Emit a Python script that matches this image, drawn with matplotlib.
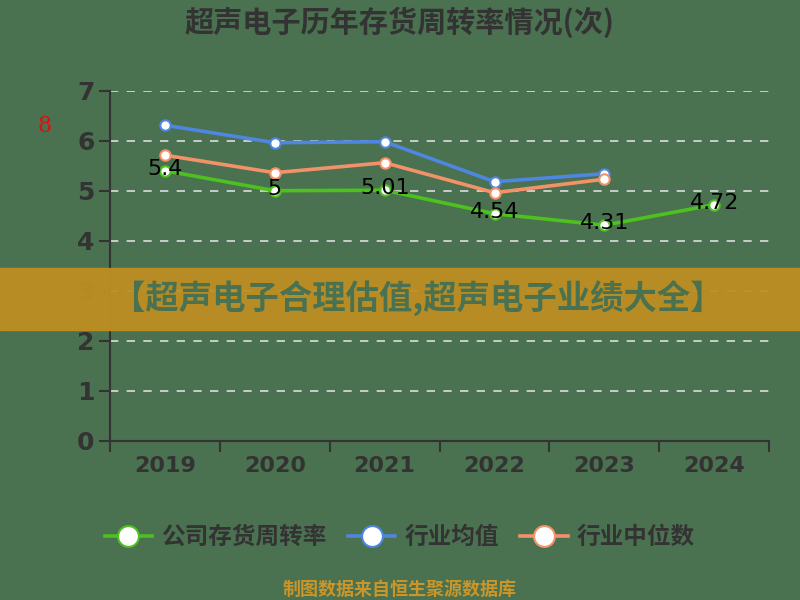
import matplotlib
matplotlib.use("Agg")
import matplotlib.pyplot as plt
import numpy as np

plt.rcParams['font.family'] = ['Noto Sans CJK SC', 'DejaVu Sans']

years = ["2019", "2020", "2021", "2022", "2023", "2024"]
company = [5.4, 5.0, 5.01, 4.54, 4.31, 4.72]
industry_mean = [6.31, 5.96, 5.98, 5.18, 5.34]
industry_median = [5.71, 5.36, 5.56, 4.96, 5.23]
company_labels = ["5.4", "5", "5.01", "4.54", "4.31", "4.72"]

title = "超声电子历年存货周转率情况(次)"
series_names = ["公司存货周转率", "行业均值", "行业中位数"]
banner = "【超声电子合理估值,超声电子业绩大全】"
source = "制图数据来自恒生聚源数据库"

bg = "#4A7150"
c_green = "#4DC11F"
c_blue = "#4F86E0"
c_orange = "#F39268"
c_text = "#333333"

fig = plt.figure(figsize=(8, 6), dpi=100, facecolor=bg)
ax = fig.add_axes([0.1375, 0.2655, 0.824, 0.5833], facecolor=bg)

x = np.arange(len(years))
xm = np.arange(len(industry_mean))

lg, = ax.plot(x, company, color=c_green, lw=2.6, marker='o', ms=7.5,
              mfc='white', mec=c_green, mew=1.5, zorder=3)
lb, = ax.plot(xm, industry_mean, color=c_blue, lw=2.6, marker='o', ms=7.5,
              mfc='white', mec=c_blue, mew=1.5, zorder=3)
lo, = ax.plot(xm, industry_median, color=c_orange, lw=2.6, marker='o', ms=7.5,
              mfc='white', mec=c_orange, mew=1.5, zorder=3)

for xi, v, t in zip(x, company, company_labels):
    ax.text(xi, v + 0.04, t, ha='center', va='center', fontsize=16,
            color='black', family=['DejaVu Sans'], zorder=4)

ax.set_xlim(-0.5, len(years) - 0.5)
ax.set_ylim(0, 7)
ax.set_yticks(range(0, 8))
ax.set_xticks(x)
ax.set_xticklabels(years)
ax.set_xticks(np.arange(-0.5, len(years), 1.0), minor=True)
ax.tick_params(axis='x', which='major', length=0, pad=11, labelsize=16, labelcolor=c_text)
ax.tick_params(axis='x', which='minor', length=8, width=1.5, color=c_text, direction='out')
ax.tick_params(axis='y', length=8, width=1.5, color=c_text, labelsize=18, labelcolor=c_text, pad=3)
for lab in ax.get_xticklabels() + ax.get_yticklabels():
    lab.set_family(['DejaVu Sans'])
    lab.set_fontweight('bold')

ax.grid(axis='y', color='#DDDDDD', ls=(0, (5, 5)), lw=1.2)
ax.set_axisbelow(True)
for s in ['top', 'right']:
    ax.spines[s].set_visible(False)
ax.spines['left'].set_color(c_text)
ax.spines['left'].set_linewidth(1.5)
ax.spines['bottom'].set_color(c_text)
ax.spines['bottom'].set_linewidth(1.5)

fig.text(0.5, 0.963, title, ha='center', va='center', fontsize=21,
         fontweight='bold', color=c_text)
fig.text(0.056, 0.79, "8", ha='center', va='center', fontsize=16,
         color='#DD1111', family=['DejaVu Serif'])

# banner
fig.patches.append(plt.Rectangle((0, (600 - 330) / 600), 1, 62 / 600,
                                 transform=fig.transFigure, color='#BE8E22',
                                 alpha=0.95, zorder=5))
fig.text(0.522, (600 - 299) / 600, banner, ha='center', va='center',
         fontsize=24, fontweight='bold', color=bg, zorder=6)

leg = fig.legend([lg, lb, lo], series_names, loc='center', ncol=3,
                 bbox_to_anchor=(0.5, (600 - 537) / 600), frameon=False,
                 prop={'size': 17, 'weight': 'bold'}, labelcolor=c_text,
                 handlelength=2.0, columnspacing=0.9, handletextpad=0.4,
                 markerscale=2.0)

fig.text(0.5, (600 - 589) / 600, source, ha='center', va='center',
         fontsize=13, fontweight='bold', color='#C8962A')

fig.savefig("out.png", dpi=100, facecolor=bg)
